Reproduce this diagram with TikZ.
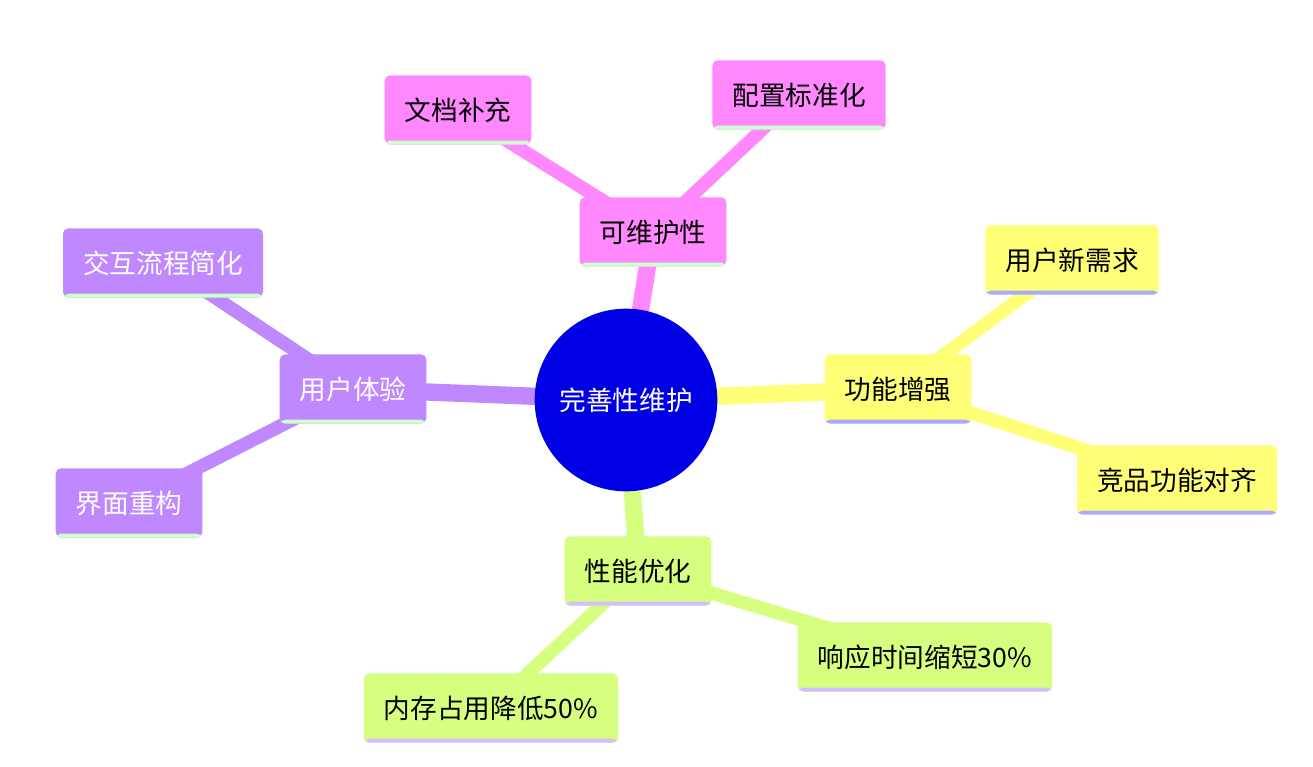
\documentclass[tikz,border=0pt]{standalone}
\usepackage{fontspec}
\setmainfont{Noto Sans CJK SC}
\usetikzlibrary{positioning,backgrounds}
\definecolor{rootblue}{RGB}{0,0,230}
\definecolor{pinkc}{RGB}{255,136,255}
\definecolor{yellowc}{RGB}{255,255,119}
\definecolor{greenc}{RGB}{214,255,128}
\definecolor{purplec}{RGB}{192,136,255}
\definecolor{stripg}{RGB}{204,255,204}
\definecolor{stripl}{RGB}{170,170,255}
\definecolor{stripp}{RGB}{212,190,255}
\begin{document}
\begin{tikzpicture}[x=0.75pt, y=-0.75pt,
    every node/.style={font=\fontsize{20}{24}\selectfont},
    topic/.style={fill=#1, rounded corners=4pt, inner xsep=15pt, minimum height=52pt},
    strip/.style={path picture={\fill[#1] ([yshift=3pt]path picture bounding box.south west) rectangle (path picture bounding box.south east);}},
    trunk/.style={line width=13pt, draw=#1},
    twig/.style={line width=10pt, draw=#1}]
  \useasboundingbox (0,0) rectangle (1313,767);
  \node[circle, fill=rootblue, text=white, minimum size=137pt] (root) at (626,400) {完善性维护};
  % main branches
  \node[topic=pinkc, strip=stripg] (wh) at (653,232) {可维护性};
  \node[topic=pinkc, strip=stripg] (wd) at (458,110) {文档补充};
  \node[topic=pinkc, strip=stripg] (pz) at (799,95) {配置标准化};
  \node[topic=yellowc, strip=stripl] (gn) at (898,389) {功能增强};
  \node[topic=yellowc, strip=stripl] (xq) at (1072,260) {用户新需求};
  \node[topic=yellowc, strip=stripl] (jp) at (1177,480) {竞品功能对齐};
  \node[topic=greenc, strip=stripp] (xn) at (638,571) {性能优化};
  \node[topic=greenc, strip=stripp] (xy) at (925,657) {响应时间缩短30\%};
  \node[topic=greenc, strip=stripp] (nc) at (491,708) {内存占用降低50\%};
  \node[topic=purplec, strip=stripg, text=white] (ty) at (353,389) {用户体验};
  \node[topic=purplec, strip=stripg, text=white] (jh) at (163,263) {交互流程简化};
  \node[topic=purplec, strip=stripg, text=white] (jm) at (129,503) {界面重构};
  % connectors
  \begin{scope}[on background layer]
    \draw[trunk=pinkc] (root.center) -- (wh.center);
    \draw[trunk=yellowc] (root.center) -- (gn.center);
    \draw[trunk=greenc] (root.center) -- (xn.center);
    \draw[trunk=purplec] (root.center) -- (ty.center);
    \draw[twig=pinkc] (wh.center) -- (wd.center);
    \draw[twig=pinkc] (wh.center) -- (pz.center);
    \draw[twig=yellowc] (gn.center) -- (xq.center);
    \draw[twig=yellowc] (gn.center) -- (jp.center);
    \draw[twig=greenc] (xn.center) -- (xy.center);
    \draw[twig=greenc] (xn.center) -- (nc.center);
    \draw[twig=purplec] (ty.center) -- (jh.center);
    \draw[twig=purplec] (ty.center) -- (jm.center);
  \end{scope}
\end{tikzpicture}
\end{document}
